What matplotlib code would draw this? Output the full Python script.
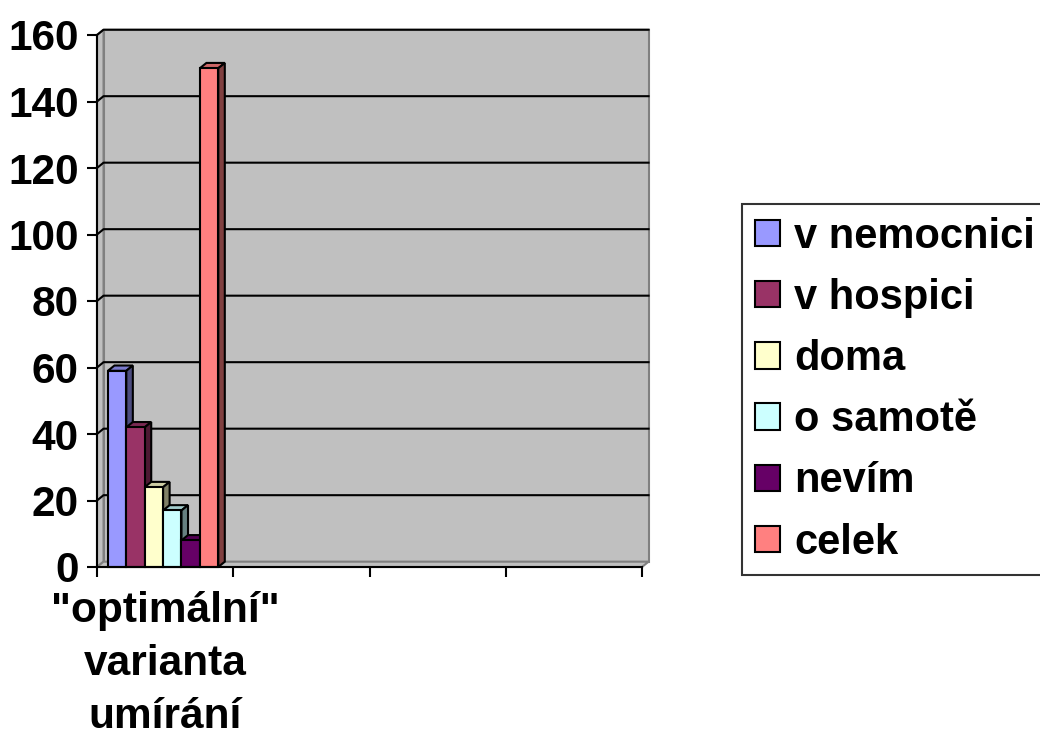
"""
3D-style clustered column chart (Excel look) with matplotlib
"""

import matplotlib
matplotlib.use("Agg")
from matplotlib import pyplot as plt
from matplotlib.patches import Polygon, Patch
from matplotlib.lines import Line2D
import numpy as np

plt.rcParams['font.family'] = ['Liberation Sans', 'DejaVu Sans']
plt.rcParams['font.weight'] = 'bold'

categories = ['"optimální"\nvarianta\numírání', '', '', '']
series = ['v nemocnici', 'v hospici', 'doma', 'o samotě', 'nevím', 'celek']
values = [59, 42, 24, 17, 8, 150]
colors = ['#9999FF', '#993366', '#FFFFCC', '#CCFFFF', '#660066', '#FF8080']
yticks = [0, 20, 40, 60, 80, 100, 120, 140, 160]

FS = 30.5


def shade(c, f):
    rgb = np.array(matplotlib.colors.to_rgb(c))
    return tuple(rgb * f)


fig = plt.figure(figsize=(10.4, 7.43), dpi=100)
ax = fig.add_axes([97 / 1040, 176 / 743, 545 / 1040, 532 / 743])
ax.set_xlim(-0.5, len(categories) - 0.5)
ax.set_ylim(0, 160)
ax.set_facecolor('none')

# depth of the 3D effect, in data units
DX = 0.048
DY = 1.6
x0, x1 = ax.get_xlim()
y0, y1 = ax.get_ylim()

# back wall, left wall and floor
wall = Polygon([(x0 + DX, y0 + DY), (x1 + DX, y0 + DY), (x1 + DX, y1 + DY), (x0 + DX, y1 + DY)],
               closed=True, facecolor='#C0C0C0', edgecolor='#808080', lw=1.5, zorder=0, clip_on=False)
ax.add_patch(wall)
side = Polygon([(x0, y0), (x0 + DX, y0 + DY), (x0 + DX, y1 + DY), (x0, y1)],
               closed=True, facecolor='#C0C0C0', edgecolor='#808080', lw=1.5, zorder=0.5, clip_on=False)
ax.add_patch(side)
floor = Polygon([(x0, y0), (x1, y0), (x1 + DX, y0 + DY), (x0 + DX, y0 + DY)],
                closed=True, facecolor='#C0C0C0', edgecolor='#808080', lw=1.5, zorder=0.5, clip_on=False)
ax.add_patch(floor)

# gridlines on the wall (with the short diagonal across the side wall)
for v in yticks[1:]:
    ax.add_line(Line2D([x0, x0 + DX, x1 + DX], [v, v + DY, v + DY], color='black', lw=1.5,
                       zorder=1, clip_on=False))

# bars
n = len(series)
w = 0.135
for i, (s, v, c) in enumerate(zip(series, values, colors)):
    x = 0 + (i - (n - 1) / 2) * w - 0.015
    z = 2 + i
    left, right = x - w / 2, x + w / 2
    top = Polygon([(left, v), (right, v), (right + DX, v + DY), (left + DX, v + DY)],
                  closed=True, facecolor=shade(c, 0.8), edgecolor='black', lw=1.5, zorder=z, clip_on=False)
    sd = Polygon([(right, 0), (right + DX, DY), (right + DX, v + DY), (right, v)],
                 closed=True, facecolor=shade(c, 0.5), edgecolor='black', lw=1.5, zorder=z, clip_on=False)
    ax.add_patch(top)
    ax.add_patch(sd)
    ax.bar(x, v, width=w, color=c, edgecolor='black', linewidth=1.5, zorder=z + 0.5, clip_on=False)

# axes
for sp in ['top', 'right']:
    ax.spines[sp].set_visible(False)
for sp in ['left', 'bottom']:
    ax.spines[sp].set_linewidth(1.5)
    ax.spines[sp].set_zorder(20)

ax.set_yticks(yticks)
ax.tick_params(axis='y', length=7, width=1.5, pad=6, labelsize=FS)
ax.set_xticks(range(len(categories)))
ax.set_xticklabels(categories, fontsize=FS, linespacing=1.42)
ax.set_xticks(np.arange(-0.5, len(categories)), minor=True)
ax.tick_params(axis='x', which='major', length=0, pad=17)
ax.tick_params(axis='x', which='minor', length=7, width=1.5)

handles = [Patch(facecolor=c, edgecolor='black', lw=1.5) for c in colors]
leg = fig.legend(handles, series, loc='upper left', bbox_to_anchor=(742 / 1040, 1 - 204 / 743),
                 fontsize=30, frameon=True, fancybox=False, shadow=False, edgecolor='black',
                 handlelength=0.6, handleheight=0.6, handletextpad=0.35, labelspacing=0.51,
                 borderpad=0.3, borderaxespad=0)
leg.get_frame().set_linewidth(1.5)

plt.savefig('out.png', dpi=100)
